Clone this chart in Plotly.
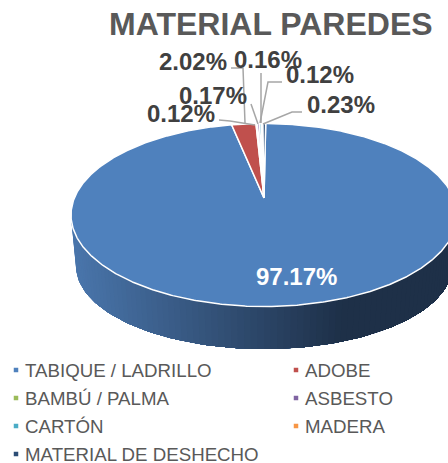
import math
import plotly.graph_objects as go

title = "MATERIAL PAREDES"
categories = ["TABIQUE / LADRILLO", "ADOBE", "BAMBÚ / PALMA", "ASBESTO", "CARTÓN", "MADERA", "MATERIAL DE DESHECHO"]
values = [97.17, 2.02, 0.12, 0.17, 0.16, 0.12, 0.23]
colors = ["#4f81bd", "#c0504d", "#9bbb59", "#8064a2", "#4bacc6", "#f79646", "#2c4d75"]

W, H = 448, 463
CX, APEX_Y = 264, 198
TOP = dict(cy=215, a=193, b=91.5)
BOTTOM = dict(cy=266, a=188, b=83)
START_DEG = 0.5

# label centre (x, y) and leader polyline for each category, in page pixels
label_pos = [(296, 276), (193, 61), (181, 113), (213, 95), (268, 59), (320, 74), (341, 104)]
leaders = [
    None,
    [(231, 68), (243, 68), (245, 123)],
    [(219, 120), (230, 121), (255, 125)],
    [(251, 104), (258, 124)],
    [(261, 73), (261, 123)],
    [(282, 82), (268, 82), (260, 123)],
    [(302, 112), (292, 112), (263, 124)],
]
# legend layout, in page pixels
legend_cols = [16, 296]
legend_rows = [370, 398, 426, 454]
legend_text_gap = 7


def rim(e, deg):
    """Point on an ellipse; deg is clockwise from the top."""
    t = math.radians(deg)
    return CX + e["a"] * math.sin(t), e["cy"] - e["b"] * math.cos(t)


def lerp(c1, c2, f):
    return "rgb(%d,%d,%d)" % tuple(c1[i] + (c2[i] - c1[i]) * f for i in range(3))


fig = go.Figure()

# Side wall of the pie, shaded left to right. Each band runs on to the right end
# and is painted over by the next, so no seams show between bands.
SIDE_LEFT, SIDE_RIGHT = (74, 118, 172), (30, 48, 72)
N = 90
for i in range(N):
    degs = [270 - 180 * k / N for k in range(i, N + 1)]
    p = [rim(TOP, d) for d in degs] + [rim(BOTTOM, d) for d in reversed(degs)]
    f = (p[0][0] - 71) / 270
    col = lerp(SIDE_LEFT, SIDE_RIGHT, min(1, max(0, f)))
    fig.add_trace(go.Scatter(
        x=[q[0] for q in p] + [p[0][0]], y=[q[1] for q in p] + [p[0][1]],
        mode="lines", fill="toself", fillcolor=col, line=dict(width=0),
        showlegend=False, hoverinfo="skip"))

# Top face: one wedge per value
total = sum(values)
angle = START_DEG
for name, v, c in zip(categories, values, colors):
    span = v / total * 360
    steps = max(2, int(span * 2))
    pts = [rim(TOP, angle + span * k / steps) for k in range(steps + 1)]
    xs = [CX] + [q[0] for q in pts] + [CX]
    ys = [APEX_Y] + [q[1] for q in pts] + [APEX_Y]
    fig.add_trace(go.Scatter(
        x=xs, y=ys, mode="lines", fill="toself", fillcolor=c,
        line=dict(color="white", width=1.5), showlegend=False,
        name=name, hoverinfo="name"))
    angle += span

# Leader lines
for path in leaders:
    if path:
        fig.add_trace(go.Scatter(
            x=[q[0] for q in path], y=[q[1] for q in path], mode="lines",
            line=dict(color="#a6a6a6", width=1.5), showlegend=False, hoverinfo="skip"))

# Legend in two columns (last row has one entry)
for i, (name, c) in enumerate(zip(categories, colors)):
    lx = legend_cols[i % 2]
    ly = legend_rows[i // 2]
    fig.add_trace(go.Scatter(
        x=[lx], y=[ly], mode="markers", name=name, showlegend=False, hoverinfo="name",
        marker=dict(symbol="square", size=4.5, color=c)))
    fig.add_annotation(
        x=lx + legend_text_gap, y=ly, xref="x", yref="y", text=name, showarrow=False,
        xanchor="left", yanchor="middle",
        font=dict(family="Liberation Sans", size=18.7, color="#595959"))

# Percentage labels
for i, (v, (x, y)) in enumerate(zip(values, label_pos)):
    fig.add_annotation(
        x=x, y=y, xref="x", yref="y", text=f"<b>{v:.2f}%</b>", showarrow=False,
        font=dict(family="Liberation Sans", size=24, color="white" if i == 0 else "#404040"))

fig.add_annotation(
    x=271, y=24, xref="x", yref="y", text=f"<b>{title}</b>", showarrow=False,
    font=dict(family="Liberation Sans", size=32, color="#595959"))

fig.update_layout(
    width=W, height=H, margin=dict(l=0, r=0, t=0, b=0, autoexpand=False),
    paper_bgcolor="white", plot_bgcolor="white", showlegend=False,
    xaxis=dict(range=[0, W], visible=False, fixedrange=True),
    yaxis=dict(range=[H, 0], visible=False, fixedrange=True),
)

fig.write_html("out.html", config=dict(displayModeBar=False),
               post_script="document.body.style.margin='0';document.body.style.overflow='hidden';")
